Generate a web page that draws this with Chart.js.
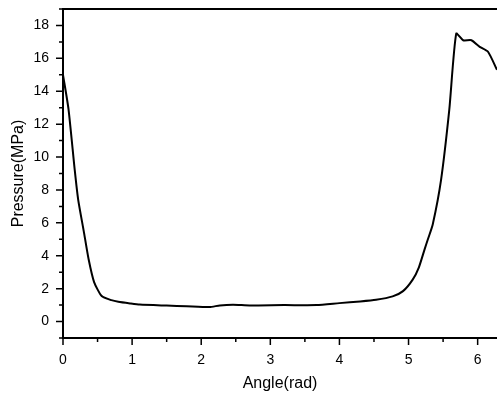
<!DOCTYPE html>
<html lang="en">
<head>
    <meta charset="UTF-8">
    <script src="https://cdn.jsdelivr.net/npm/chart.js@4.4.0/dist/chart.umd.min.js"></script>
    <title>Pressure vs Angle</title>
    <style>
        body{margin:0; background:#fff;}
        canvas{display:block;}
    </style>
</head>
<body>
    <canvas id="myChart" width="497" height="396"></canvas>
    <script>
        // values
        const angle = [0, 0.08, 0.17, 0.22, 0.30, 0.37, 0.45, 0.56, 0.70, 0.80, 0.97, 1.11, 1.50, 1.79, 2.12, 2.27, 2.46, 2.70, 3.20, 3.67, 4.00, 4.30, 4.53, 4.77, 4.92, 5.06, 5.15, 5.23, 5.28, 5.35, 5.47, 5.59, 5.69, 5.79, 5.91, 6.03, 6.15, 6.28]
        const pressure = [15.0, 12.9, 9.2, 7.4, 5.5, 3.8, 2.4, 1.55, 1.3, 1.2, 1.1, 1.03, 0.97, 0.93, 0.88, 0.98, 1.02, 0.98, 1.0, 1.0, 1.12, 1.22, 1.32, 1.53, 1.85, 2.55, 3.3, 4.36, 5.0, 5.9, 8.6, 12.9, 17.5, 17.1, 17.1, 16.7, 16.4, 15.3]
        const xTicks = [0, 1, 2, 3, 4, 5, 6]
        const xMinor = [0.5, 1.5, 2.5, 3.5, 4.5, 5.5]
        const yTicks = [0, 2, 4, 6, 8, 10, 12, 14, 16, 18]
        const yMinor = [-1, 1, 3, 5, 7, 9, 11, 13, 15, 17, 19]

        const tickFont = {family:"'Liberation Sans', Arial, sans-serif", size:14}
        const titleFont = {family:"'Liberation Sans', Arial, sans-serif", size:16}

        // tick marks and top frame line
        const frame = {
            id:'frame',
            afterDraw(chart){
                const c = chart.ctx, a = chart.chartArea
                const xs = chart.scales.x, ys = chart.scales.y
                c.save()
                c.strokeStyle = '#000'
                c.lineWidth = 1.5
                c.beginPath()
                yTicks.forEach(v => { const p = ys.getPixelForValue(v); c.moveTo(a.left - 7, p); c.lineTo(a.left, p) })
                yMinor.forEach(v => { const p = ys.getPixelForValue(v); c.moveTo(a.left - 4, p); c.lineTo(a.left, p) })
                xTicks.forEach(v => { const p = xs.getPixelForValue(v); c.moveTo(p, a.bottom); c.lineTo(p, a.bottom + 7) })
                xMinor.forEach(v => { const p = xs.getPixelForValue(v); c.moveTo(p, a.bottom); c.lineTo(p, a.bottom + 4) })
                c.stroke()
                c.lineWidth = 2
                c.beginPath()
                c.moveTo(a.left, a.top); c.lineTo(a.right, a.top)
                c.stroke()
                c.restore()
            }
        }

        const ctx = document.getElementById('myChart').getContext('2d')
        const myChart = new Chart(ctx, {
            type:'line',
            data:{
                datasets:[{
                    data: angle.map((a, i) => ({x:a, y:pressure[i]})),
                    borderColor:'#000',
                    borderWidth:2,
                    pointRadius:0,
                    tension:0.2,
                    fill:false
                }]
            },
            options:{
                responsive:false,
                animation:false,
                layout:{padding:{top:9, right:0, left:0, bottom:0}},
                plugins:{legend:{display:false}, tooltip:{enabled:false}},
                scales:{
                    x:{
                        type:'linear', min:0, max:6.28,
                        afterFit(s){ s.height = 58; s.paddingLeft = 0; s.paddingRight = 0 },
                        afterBuildTicks(s){ s.ticks = xTicks.map(v => ({value:v})) },
                        grid:{display:false},
                        border:{display:true, color:'#000', width:2},
                        ticks:{color:'#000', font:tickFont, padding:6, maxRotation:0},
                        title:{display:true, text:'Angle(rad)', color:'#000', font:titleFont, padding:{top:0, bottom:3}}
                    },
                    y:{
                        min:-1, max:19,
                        afterFit(s){ s.width = 63; s.paddingTop = 0; s.paddingBottom = 0 },
                        afterBuildTicks(s){ s.ticks = yTicks.map(v => ({value:v})) },
                        grid:{display:false},
                        border:{display:true, color:'#000', width:2},
                        ticks:{color:'#000', font:tickFont, padding:6},
                        title:{display:true, text:'Pressure(MPa)', color:'#000', font:titleFont, padding:{top:9, bottom:0}}
                    }
                }
            },
            plugins:[frame]
        })
    </script>
</body>
</html>
